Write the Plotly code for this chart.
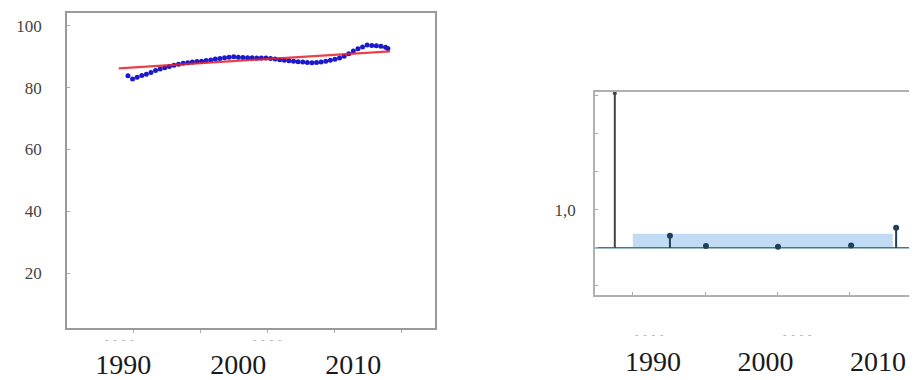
import plotly.graph_objects as go

# ---------------- data ----------------
# Left panel: observed series (blue points) and linear trend (red)
obs_years = [1990.4, 1990.8, 1991.2, 1991.6, 1992.0, 1992.4, 1992.8, 1993.2, 1993.6, 1994.0,
             1994.4, 1994.8, 1995.2, 1995.6, 1996.0, 1996.4, 1996.8, 1997.2, 1997.6, 1998.0,
             1998.4, 1998.8, 1999.2, 1999.6, 2000.0, 2000.4, 2000.8, 2001.2, 2001.6, 2002.0,
             2002.4, 2002.8, 2003.2, 2003.6, 2004.0, 2004.4, 2004.8, 2005.2, 2005.6, 2006.0,
             2006.4, 2006.8, 2007.2, 2007.6, 2008.0, 2008.4, 2008.8, 2009.2, 2009.6, 2010.0,
             2010.4, 2010.8, 2011.2, 2011.6, 2012.0, 2012.4, 2012.8, 2013.0]
obs_values = [83.9, 82.8, 83.4, 84.0, 84.4, 84.9, 85.6, 86.1, 86.5, 86.9,
              87.3, 87.6, 87.9, 88.1, 88.3, 88.5, 88.6, 88.8, 89.0, 89.3,
              89.5, 89.7, 89.9, 90.0, 89.9, 89.8, 89.7, 89.7, 89.6, 89.6,
              89.6, 89.5, 89.3, 89.1, 88.9, 88.7, 88.6, 88.4, 88.3, 88.2,
              88.1, 88.2, 88.3, 88.6, 88.9, 89.2, 89.6, 90.2, 91.0, 91.9,
              92.6, 93.2, 93.8, 93.7, 93.6, 93.4, 93.1, 92.7]
trend_years = [1989.6, 2013.2]
trend_values = [86.3, 91.8]

left_yticks = [20, 40, 60, 80, 100]

# Right panel: stem plot with confidence band
stem_years = [1986.6, 1991.5, 1994.7, 2001.1, 2007.6, 2011.6]
stem_values = [4.07, 0.32, 0.05, 0.03, 0.06, 0.53]
band_years = [1988.2, 2011.3]
band_upper = 0.37

right_yticks = [-1, 0, 1, 2, 3, 4]
right_yticktext = ["", "", "1,0", "", "", ""]

year_ticks = [1990, 2000, 2010]
year_labels = ["1990", "2000", "2010"]

# ---------------- figure ----------------
fig = go.Figure()

# left panel
fig.add_trace(go.Scatter(
    x=obs_years, y=obs_values, mode="markers",
    marker=dict(color="#1a1acc", size=5),
    xaxis="x", yaxis="y", showlegend=False, hoverinfo="skip"))
fig.add_trace(go.Scatter(
    x=trend_years, y=trend_values, mode="lines",
    line=dict(color="rgba(230,30,40,0.85)", width=2.2),
    xaxis="x", yaxis="y", showlegend=False, hoverinfo="skip"))

# right panel: confidence band
fig.add_trace(go.Scatter(
    x=[band_years[0], band_years[1], band_years[1], band_years[0], band_years[0]],
    y=[0, 0, band_upper, band_upper, 0],
    mode="lines", fill="toself", fillcolor="rgba(150,195,235,0.6)",
    line=dict(width=0), xaxis="x2", yaxis="y2", showlegend=False, hoverinfo="skip"))

# zero line
fig.add_trace(go.Scatter(
    x=[1984.0, 2014.0], y=[0, 0], mode="lines",
    line=dict(color="#3c7f7a", width=1.5),
    xaxis="x2", yaxis="y2", showlegend=False, hoverinfo="skip"))

# stems
stem_x, stem_y = [], []
for sx, sv in zip(stem_years[1:], stem_values[1:]):
    stem_x += [sx, sx, None]
    stem_y += [0, sv, None]
fig.add_trace(go.Scatter(
    x=[stem_years[0], stem_years[0]], y=[0, stem_values[0]], mode="lines",
    line=dict(color="#444444", width=2),
    xaxis="x2", yaxis="y2", showlegend=False, hoverinfo="skip"))
fig.add_trace(go.Scatter(
    x=stem_x, y=stem_y, mode="lines",
    line=dict(color="#1f3f5a", width=2),
    xaxis="x2", yaxis="y2", showlegend=False, hoverinfo="skip"))
fig.add_trace(go.Scatter(
    x=stem_years[1:], y=stem_values[1:], mode="markers",
    marker=dict(color="#1f3f5a", size=6),
    xaxis="x2", yaxis="y2", showlegend=False, hoverinfo="skip"))
fig.add_trace(go.Scatter(
    x=[stem_years[0]], y=[stem_values[0]], mode="markers",
    marker=dict(color="#444444", size=4),
    xaxis="x2", yaxis="y2", showlegend=False, hoverinfo="skip", cliponaxis=False))

# page body has an 8px default margin: size the figure to the visible area
OFF = 8
W, H = 917 - OFF, 380 - OFF
serif = "Liberation Serif, Times New Roman, serif"

def px_x(a, b):
    return [(a - OFF) / W, (b - OFF) / W]

def px_y(top, bottom):
    return [1 - (bottom - OFF) / H, 1 - (top - OFF) / H]

axis_common = dict(showgrid=False, zeroline=False, showline=True, mirror=True,
                   automargin=False)

fig.update_layout(
    width=W, height=H,
    margin=dict(l=0, r=0, t=0, b=0, autoexpand=False),
    paper_bgcolor="white", plot_bgcolor="white",
    xaxis=dict(
        domain=px_x(67, 435), range=[1985.1, 2017.1],
        linecolor="#9a9a9a", linewidth=1.5,
        tickmode="array", tickvals=year_ticks, ticktext=year_labels,
        ticks="outside", ticklen=11, tickcolor="rgba(0,0,0,0)",
        tickfont=dict(family=serif, size=28, color="#1a1a1a"),
        minor=dict(ticks="outside", ticklen=3, tickcolor="#aaaaaa",
                   tick0=1990.87, dtick=5.83),
        **axis_common),
    yaxis=dict(
        domain=px_y(13, 328), range=[2.2, 104.2],
        linecolor="#9a9a9a", linewidth=1.5,
        tickmode="array", tickvals=left_yticks,
        ticks="inside", ticklen=3, tickcolor="#aaaaaa",
        ticklabelstandoff=20,
        tickfont=dict(family=serif, size=17, color="#444444"),
        **axis_common),
    xaxis2=dict(
        domain=px_x(595, 913), range=[1984.84, 2013.1],
        anchor="y2",
        linecolor="#b0b0b0", linewidth=1.5,
        tickmode="array", tickvals=year_ticks, ticktext=year_labels,
        ticks="outside", ticklen=41, tickcolor="rgba(0,0,0,0)",
        tickfont=dict(family=serif, size=28, color="#1a1a1a"),
        minor=dict(ticks="inside", ticklen=3, tickcolor="#aaaaaa",
                   tick0=1988.2, dtick=6.43),
        **axis_common),
    yaxis2=dict(
        domain=px_y(92, 295), range=[-1.24, 4.1],
        anchor="x2",
        linecolor="#b0b0b0", linewidth=1.5,
        tickmode="array", tickvals=right_yticks, ticktext=right_yticktext,
        ticks="inside", ticklen=3, tickcolor="#aaaaaa",
        ticklabelstandoff=14,
        tickfont=dict(family=serif, size=17, color="#444444"),
        **axis_common),
)

# small dashed marks above some year labels
dash_marks = [("x", 1989.6, 347), ("x", 2002.5, 347), ("x2", 1989.6, 342), ("x2", 2002.8, 342)]
for xr, xv, ypx in dash_marks:
    fig.add_annotation(x=xv, y=1 - (ypx - OFF) / H, xref=xr, yref="paper",
                       text="-  -  -  -", showarrow=False,
                       font=dict(size=10, color="#aaaaaa", family=serif))

fig.write_html("out.html")
